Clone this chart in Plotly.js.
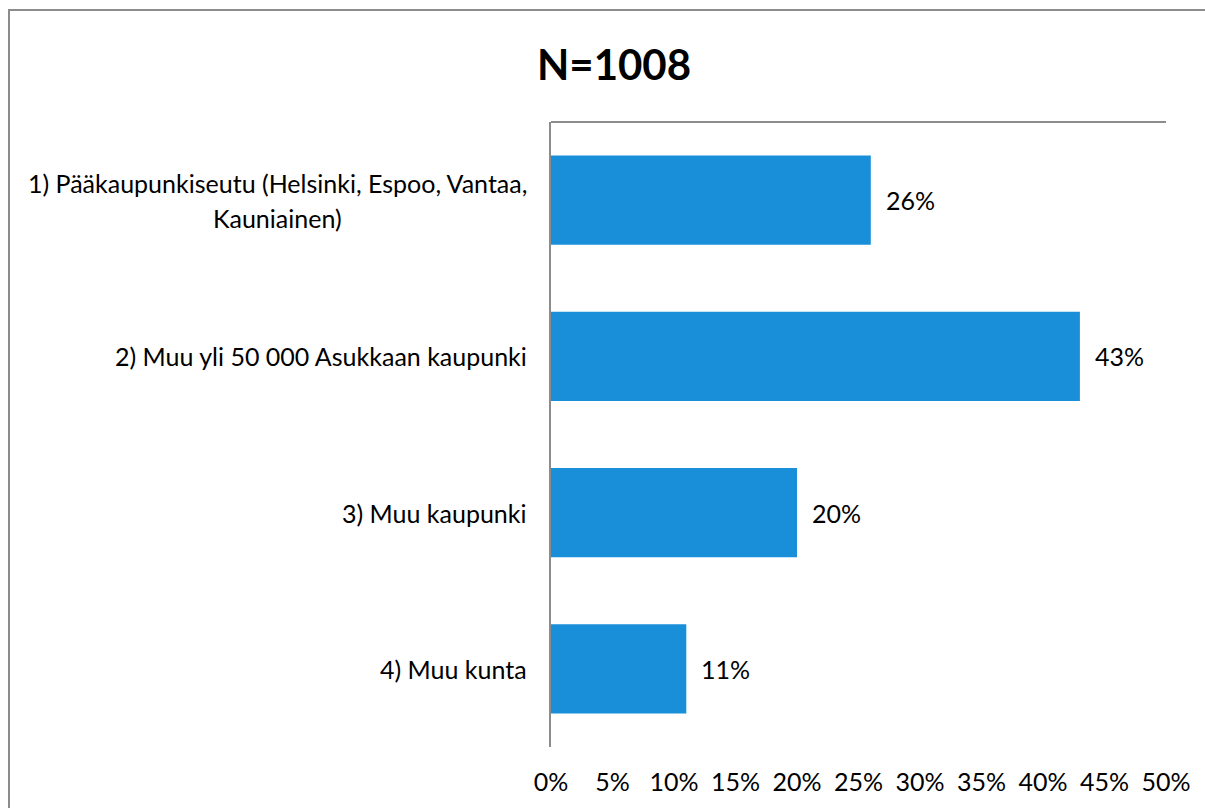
<!DOCTYPE html>
<html>
<head>
<meta charset="utf-8">
<script src="https://cdn.plot.ly/plotly-3.0.1.min.js"></script>
<style>
html,body{margin:0;padding:0;overflow:hidden;background:#fff;width:1205px;height:808px;}
#chart{width:1205px;height:808px;}
#frame{position:absolute;left:8px;top:9px;width:1300px;height:900px;border-left:2px solid #8c8c8c;border-top:2px solid #8c8c8c;pointer-events:none;}
</style>
</head>
<body>
<div id="chart"></div>
<div id="frame"></div>
<script>
const categories = [
  "1) Pääkaupunkiseutu (Helsinki, Espoo, Vantaa,<br>Kauniainen)",
  "2) Muu yli 50 000 Asukkaan kaupunki",
  "3) Muu kaupunki",
  "4) Muu kunta"
];
const values = [26, 43, 20, 11];
const valueLabels = ["26%", "43%", "20%", "11%"];
const tickVals = [0, 5, 10, 15, 20, 25, 30, 35, 40, 45, 50];
const tickText = ["0%", "5%", "10%", "15%", "20%", "25%", "30%", "35%", "40%", "45%", "50%"];
const titleText = "N=1008";

const FONT = "Lato, 'Liberation Sans', sans-serif";
const FS = 25;
const ids = categories.map((c, i) => i);

const trace = {
  type: "bar",
  orientation: "h",
  x: values,
  y: ids,
  marker: {color: "#1a8fd9"},
  hoverinfo: "none"
};

const annotations = [];
const LINE_GAP = 35;
categories.forEach((c, i) => {
  const lines = c.split("<br>");
  const n = lines.length;
  lines.forEach((ln, j) => {
    annotations.push({
      xref: "paper", yref: "y", x: 0, y: i,
      xanchor: "right", yanchor: "middle", xshift: -22,
      yshift: ((n - 1) / 2 - j) * LINE_GAP,
      text: ln, showarrow: false, align: "center",
      font: {family: FONT, size: FS, color: "#000"}
    });
  });
});

values.forEach((v, i) => {
  annotations.push({
    xref: "x", yref: "y", x: v, y: i,
    xanchor: "left", yanchor: "middle", xshift: 13,
    text: valueLabels[i], showarrow: false,
    font: {family: FONT, size: FS, color: "#000"}
  });
});

const layout = {
  width: 1205, height: 808,
  margin: {l: 551, r: 39, t: 122, b: 61, pad: 0},
  paper_bgcolor: "#fff", plot_bgcolor: "#fff",
  showlegend: false,
  bargap: 0.43,
  title: {
    text: "<b>" + titleText + "</b>",
    xref: "container", yref: "container",
    x: 614 / 1205, y: 1 - 65 / 808, xanchor: "center", yanchor: "middle",
    font: {family: FONT, size: 42, color: "#000"}
  },
  xaxis: {
    range: [0, 50], tickvals: tickVals, ticktext: tickText,
    showgrid: false, zeroline: false, showline: false,
    ticks: "outside", ticklen: 13, tickcolor: "rgba(0,0,0,0)",
    tickfont: {family: FONT, size: FS, color: "#000"},
    fixedrange: true
  },
  yaxis: {
    range: [3.5, -0.5], tickvals: ids, showticklabels: false,
    showgrid: false, zeroline: false,
    showline: true, linecolor: "#8c8c8c", linewidth: 2,
    fixedrange: true
  },
  shapes: [{
    type: "line", xref: "paper", yref: "paper",
    x0: 0, x1: 1, y0: 1, y1: 1,
    line: {color: "#8c8c8c", width: 2}
  }],
  annotations: annotations
};

Plotly.newPlot("chart", [trace], layout, {staticPlot: true, displayModeBar: false}).then(() => {
  // center the second line of the two-line category label under its first line
  const gd = document.getElementById("chart");
  const texts = gd.querySelectorAll(".annotation");
  const w0 = texts[0].getBoundingClientRect().width;
  const w1 = texts[1].getBoundingClientRect().width;
  Plotly.relayout(gd, {"annotations[1].xshift": -22 - (w0 - w1) / 2});
});
</script>
</body>
</html>
